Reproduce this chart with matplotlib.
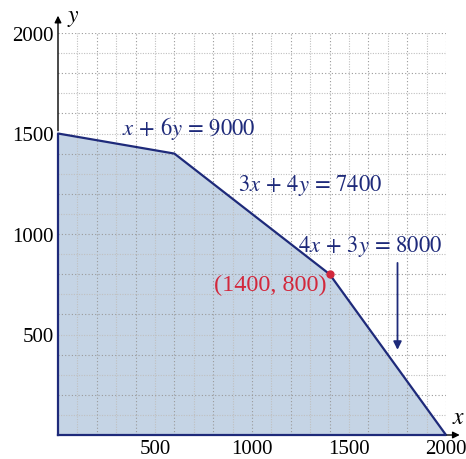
import numpy as np
import matplotlib
import matplotlib.pyplot as plt

# feasible region vertices
region_x = [0, 0, 600, 1400, 2000]
region_y = [0, 1500, 1400, 800, 0]

# corner point
pt_x, pt_y = 1400, 800

xticks = [500, 1000, 1500, 2000]
yticks = [500, 1000, 1500, 2000]

navy = '#1e2a7a'
fill = '#c5d4e5'
red = '#d2283c'

matplotlib.rcParams.update({'font.family': 'Liberation Serif',
                            'mathtext.fontset': 'stix',
                            'font.size': 15})

fig = plt.figure(figsize=(4.66, 4.60), dpi=100)
ax = fig.add_axes([58/466, 24/460, 388/466, 402/460])
ax.set_xlim(0, 2000)
ax.set_ylim(0, 2000)

# grid every 100
for v in range(100, 2001, 100):
    ls = (0, (1, 2)) if v % 200 == 0 else (0, (1, 1.3))
    c = '#9a9a9a' if v % 200 == 0 else '#c0c0c0'
    ax.plot([v, v], [0, 2000], color=c, lw=0.8, ls=ls, zorder=1)
    ax.plot([0, 2000], [v, v], color=c, lw=0.8, ls=ls, zorder=1)

# region
ax.fill(region_x, region_y, color=fill, zorder=0, lw=0)
ax.plot(region_x + [region_x[0]], region_y + [region_y[0]], color=navy,
        lw=1.6, zorder=3, clip_on=False)

# axes with arrows
ax.annotate('', xy=(2085, 0), xytext=(1990, 0),
            arrowprops=dict(arrowstyle='-|>', color='black', lw=1,
                            mutation_scale=10), annotation_clip=False)
ax.annotate('', xy=(0, 2100), xytext=(0, 1500),
            arrowprops=dict(arrowstyle='-|>', color='black', lw=1,
                            mutation_scale=10), annotation_clip=False)
ax.text(2065, 35, '$x$', fontsize=17, ha='center', va='bottom')
ax.text(45, 2075, '$y$', fontsize=17, ha='left', va='center')

# labels
ax.text(675, 1530, r'$x\,+\,6y\,=\,9000$', color=navy, fontsize=16.3,
        ha='center', va='center')
ax.text(1300, 1245, r'$3x\,+\,4y\,=\,7400$', color=navy, fontsize=16.3,
        ha='center', va='center')
ax.text(1610, 945, r'$4x\,+\,3y\,=\,8000$', color=navy, fontsize=16.3,
        ha='center', va='center')
ax.annotate('', xy=(1750, 410), xytext=(1750, 870),
            arrowprops=dict(arrowstyle='-|>', color=navy, lw=1.3,
                            mutation_scale=12))

ax.plot(pt_x, pt_y, 'o', color=red, ms=5, zorder=4)
ax.text(1385, 750, '(1400, 800)', color=red, fontsize=17.5,
        ha='right', va='center')

ax.set_xticks(xticks)
ax.set_yticks(yticks)
ax.tick_params(length=0, labelsize=15, pad=3)
for s in ax.spines.values():
    s.set_visible(False)

fig.savefig('out.png', dpi=100)
